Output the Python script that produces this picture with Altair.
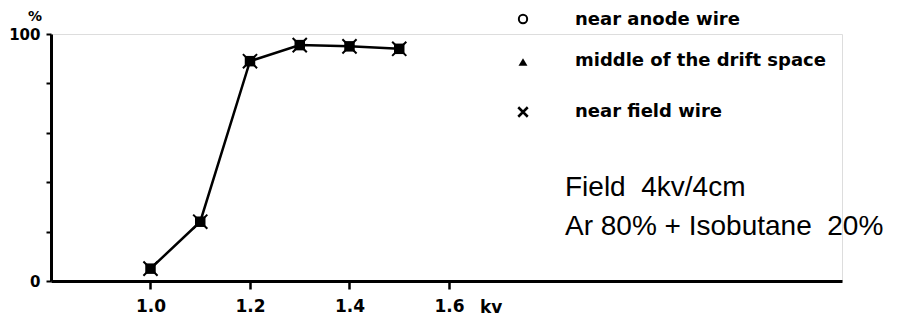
import altair as alt
import pandas as pd

# ---- data ----
voltage = [1.0, 1.1, 1.2, 1.3, 1.4, 1.5]
efficiency = [5, 24, 89, 95.5, 95, 94]
x_ticks = [1.0, 1.2, 1.4, 1.6]
y_ticks = [0, 20, 40, 60, 80, 100]
legend_labels = ["near anode wire", "middle of the drift space", "near field wire"]
annotations = ["Field\u00a0 4kv/4cm", "Ar 80% + Isobutane\u00a0 20%"]
x_unit = "kv"
y_unit = "%"

df = pd.DataFrame({"v": voltage, "eff": efficiency})

W, H = 791, 247
xs = alt.Scale(domain=[0.8, 2.39], nice=False, zero=False)
ys = alt.Scale(domain=[0, 100], nice=False)

BOLD = "DejaVu Sans"

x_enc = alt.X("v:Q", scale=xs, axis=alt.Axis(
    values=x_ticks, format=".1f", title=None, grid=False,
    labelFont=BOLD, labelFontWeight="bold", labelFontSize=17, labelColor="black",
    tickSize=8, tickWidth=2.5, tickColor="black", labelPadding=9,
    domainWidth=3, domainColor="black"))
y_enc = alt.Y("eff:Q", scale=ys, axis=alt.Axis(
    values=y_ticks, title=None, grid=False,
    labelExpr="datum.value == 0 || datum.value == 100 ? datum.label : ''",
    labelFont=BOLD, labelFontWeight="bold", labelFontSize=15, labelColor="black",
    tickSize=5, tickWidth=2, tickColor="black", labelPadding=6,
    domainWidth=3, domainColor="black"))

base = alt.Chart(df)
line = base.mark_line(color="black", strokeWidth=2.5).encode(x=x_enc, y=y_enc)
sq = base.mark_point(shape="square", filled=True, color="black", size=110, opacity=1).encode(
    x="v:Q", y="eff:Q")
crs = base.mark_point(shape="M-1,-1L1,1M1,-1L-1,1", filled=False, color="black",
                      strokeWidth=2, size=200, opacity=1).encode(x="v:Q", y="eff:Q")

one = alt.Chart(pd.DataFrame({"a": [0]}))

# axis unit labels
pct = one.mark_text(text=y_unit, font=BOLD, fontWeight="bold", fontSize=14,
                    align="center", baseline="middle", color="black").encode(
    x=alt.value(-16), y=alt.value(-17))
kv = one.mark_text(text=x_unit, font=BOLD, fontWeight="bold", fontSize=17,
                   align="left", baseline="alphabetic", color="black").encode(
    x=alt.value(429), y=alt.value(279))

# legend (drawn by hand, placed top-right)
lg_circle = one.mark_point(shape="circle", filled=False, color="black", strokeWidth=2,
                           size=70, opacity=1).encode(x=alt.value(472), y=alt.value(-15))
lg_tri = one.mark_point(shape="triangle-up", filled=True, color="black",
                        size=80, opacity=1).encode(x=alt.value(472), y=alt.value(28))
lg_x = one.mark_point(shape="M-1,-1L1,1M1,-1L-1,1", filled=False, color="black",
                      strokeWidth=2.5, size=90, opacity=1).encode(x=alt.value(472), y=alt.value(78))
lg_texts = []
for lab, yy in zip(legend_labels, [-9, 32, 83]):
    lg_texts.append(one.mark_text(text=lab, font=BOLD, fontWeight="bold", fontSize=18,
                                  align="left", baseline="alphabetic", color="black").encode(
        x=alt.value(524), y=alt.value(yy)))

ann = []
for t, yy in zip(annotations, [162, 201]):
    ann.append(one.mark_text(text=t, font="Liberation Sans", fontSize=28,
                             align="left", baseline="alphabetic", color="black").encode(
        x=alt.value(514), y=alt.value(yy)))

chart = alt.layer(line, sq, crs, pct, kv, lg_circle, lg_tri, lg_x, *lg_texts, *ann).properties(
    width=W, height=H,
    autosize=alt.AutoSizeParams(type="none"),
    padding={"left": 43, "top": 26, "right": 56, "bottom": 35},
).configure_view(stroke=None).configure(background="white")

chart.save("out.html", embed_options={"renderer": "svg", "actions": False})
